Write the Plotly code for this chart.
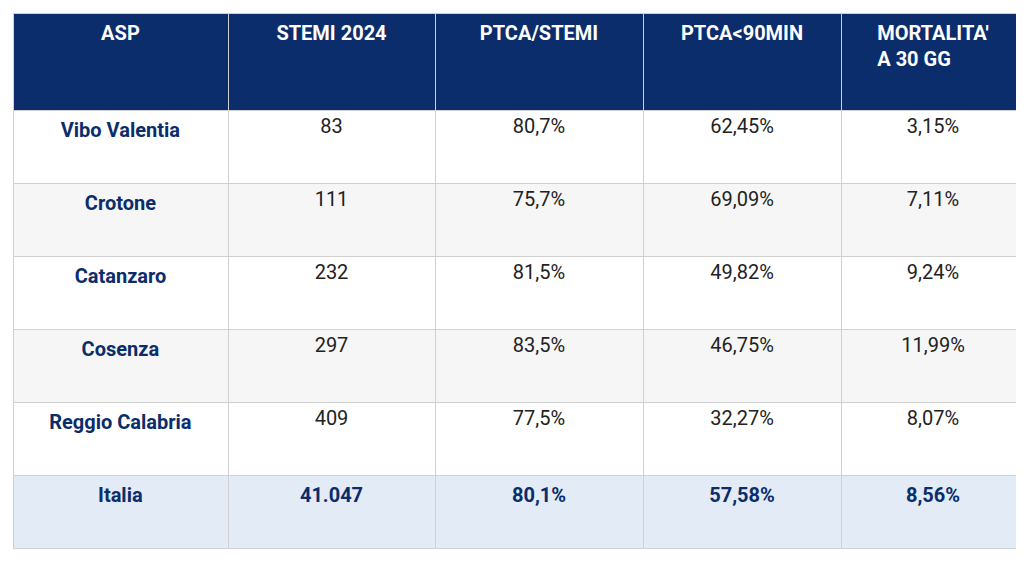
import plotly.graph_objects as go

headers = ["ASP", "STEMI 2024", "PTCA/STEMI", "PTCA<90MIN", "MORTALITA'<br>A 30 GG"]
asp = ["Vibo Valentia", "Crotone", "Catanzaro", "Cosenza", "Reggio Calabria", "Italia"]
stemi = ["83", "111", "232", "297", "409", "41.047"]
ptca = ["80,7%", "75,7%", "81,5%", "83,5%", "77,5%", "80,1%"]
ptca90 = ["62,45%", "69,09%", "49,82%", "46,75%", "32,27%", "57,58%"]
mort = ["3,15%", "7,11%", "9,24%", "11,99%", "8,07%", "8,56%"]

navy = "#0b2d6b"
n = len(asp)
row_fill = ["#ffffff" if i % 2 == 0 else "#f6f6f6" for i in range(n - 1)] + ["#e3ebf7"]

def fmt(col, bold_all=False):
    return [f"<b>{v}</b>" if (bold_all or i == n - 1) else v for i, v in enumerate(col)]

cols = [fmt(asp, True), fmt(stemi), fmt(ptca), fmt(ptca90), fmt(mort)]
font_colors = [[navy] * n] + [["#222222"] * (n - 1) + [navy] for _ in range(4)]

fig = go.Figure(go.Table(
    columnwidth=[215, 207, 208, 198, 184],
    header=dict(
        values=[f"<b>{h}</b>" for h in headers],
        fill_color=navy,
        line_color="#d0d0d0",
        font=dict(color="white", size=20, family="Roboto"),
        align="center",
        height=97,
    ),
    cells=dict(
        values=cols,
        fill_color=[row_fill] * 5,
        line_color="#d0d0d0",
        font=dict(color=font_colors, size=20, family="Roboto"),
        align="center",
        height=73,
    ),
))
fig.update_layout(width=1024, height=562, margin=dict(l=5, r=7, t=5, b=10),
                  paper_bgcolor="white")
fig.write_html("out.html")
